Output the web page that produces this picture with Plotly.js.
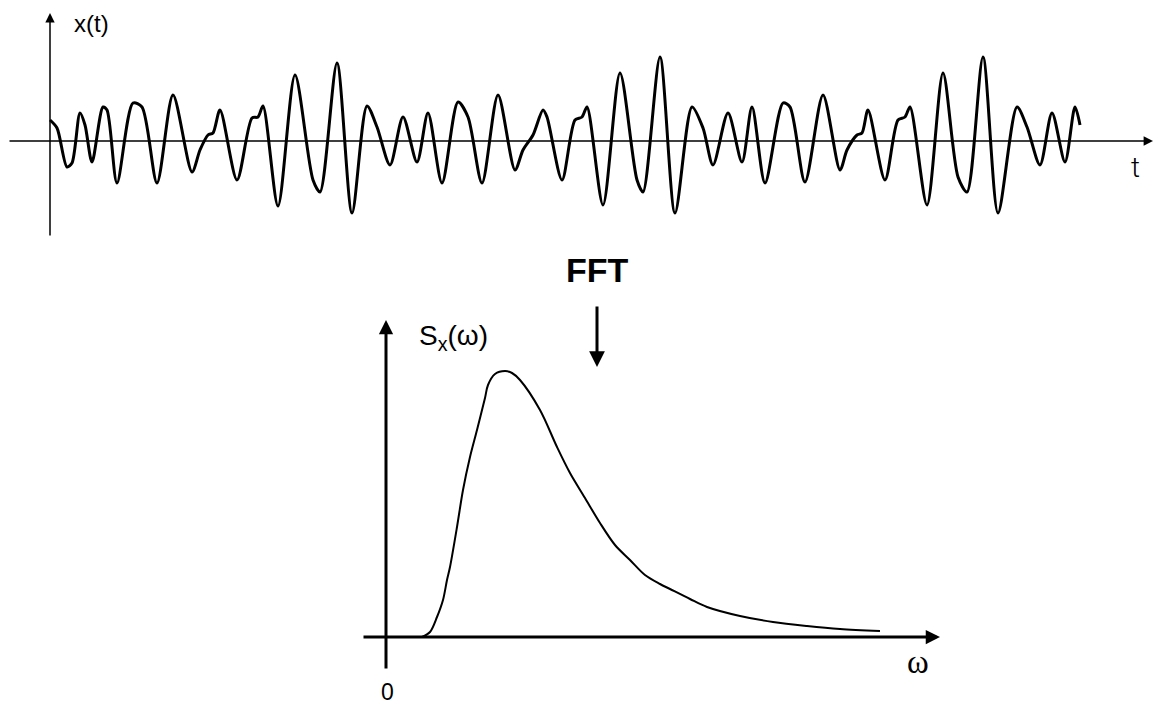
<!DOCTYPE html>
<html>
<head>
<meta charset="utf-8">
<script src="https://cdn.plot.ly/plotly-3.0.1.min.js"></script>
<style>html,body{margin:0;padding:0;background:#fff;}#chart{width:1171px;height:706px;}</style>
</head>
<body>
<div id="chart"></div>
<script>
// Time signal x(t): sample times and amplitudes
const timeT = [0,7,17,22,30,35,42,53,57,67,83,92,107,123,142,150,158,163,170,187,202,208,213,228,245,263,270,287,302,317,327,340,353,367,378,392,408,418,432,448,465,473,483,493,497,512,525,532,537,553,570,587,593,610,625,642,653,663,678,692,702,715,733,740,755,773,790,797,807,812,818,835,848,855,860,877,893,908,917,933,948,967,977,990,1002,1015,1025,1030];
const signalX = [2.1,1.3,-2.6,-2.2,2.8,1.6,-2.1,3.4,3.1,-4.2,3.8,3.4,-4.2,4.6,-3.1,-0.9,0.6,0.8,3.1,-3.9,2.3,2.4,3.5,-6.5,6.6,-3.9,-5.1,7.8,-7.2,3.5,1.4,-2.4,2.4,-2.1,2.8,-4.2,3.9,2.4,-4.2,4.6,-2.9,-0.9,0.6,3.1,2.4,-3.9,2.1,2.4,3.4,-6.4,6.8,-3.9,-5.1,8.4,-7.2,3.4,1.3,-2.4,2.8,-2.1,3.4,-4.2,3.8,3.4,-4.1,4.6,-2.9,-0.9,0.6,0.8,3.1,-3.9,2.1,2.4,3.4,-6.4,6.8,-3.6,-5.1,8.4,-7.2,3.4,1.4,-2.4,2.8,-2.1,3.4,1.6];

// Spectrum S_x(omega)
const omega = [0.36,0.44,0.51,0.57,0.61,0.64,0.71,0.77,0.84,0.91,0.99,1.02,1.09,1.19,1.26,1.34,1.54,1.71,1.84,1.99,2.14,2.29,2.44,2.59,2.74,2.84,3.04,3.21,3.54,3.87,4.21,4.54,4.94];
const spectrum = [0,0.05,0.20,0.37,0.57,0.70,1.10,1.47,1.80,2.07,2.39,2.52,2.63,2.66,2.64,2.57,2.27,1.90,1.64,1.39,1.14,0.92,0.77,0.62,0.53,0.48,0.38,0.30,0.21,0.15,0.11,0.08,0.06];

// Labels
const topYLabel = 'x(t)';
const topXLabel = 't';
const botYLabel = 'S<sub>x</sub>(ω)';
const botXLabel = 'ω';
const originLabel = '0';
const fftLabel = 'FFT';

const sans = '"Liberation Sans", Arial, sans-serif';
const serif = '"Liberation Serif", "Times New Roman", serif';

const traces = [
  {x: timeT, y: signalX, xaxis: 'x', yaxis: 'y', mode: 'lines',
   line: {color: '#000', width: 3, shape: 'spline', smoothing: 0.8}, hoverinfo: 'skip'},
  {x: omega, y: spectrum, xaxis: 'x2', yaxis: 'y2', mode: 'lines',
   line: {color: '#000', width: 2, shape: 'spline', smoothing: 0.9}, hoverinfo: 'skip'}
];

function ax(domain, range) {
  return {domain: domain, range: range, visible: false, showgrid: false, zeroline: false, fixedrange: true};
}

function arrow(xref, yref, x0, y0, x1, y1, w, size) {
  return {xref: xref, yref: yref, axref: xref, ayref: yref, x: x1, y: y1, ax: x0, ay: y0,
          text: '', showarrow: true, arrowhead: 2, arrowwidth: w, arrowsize: size, arrowcolor: '#000',
          standoff: 0, startstandoff: 0};
}

const split = 1 - 240 / 706;
const layout = {
  width: 1171, height: 706,
  margin: {l: 0, r: 0, t: 0, b: 0},
  paper_bgcolor: '#fff', plot_bgcolor: 'rgba(0,0,0,0)',
  showlegend: false,
  xaxis: ax([0, 1], [-50, 1121]),
  yaxis: ax([split, 1], [-9.9, 14.1]),
  xaxis2: ax([0, 1], [-3.86, 7.85]),
  yaxis2: ax([0, split], [-0.69, 3.97]),
  annotations: [
    arrow('x', 'y', -42, 0, 1103, 0, 1.5, 1.25),
    arrow('x', 'y', 0, -9.6, 0, 12.8, 1.5, 1.25),
    arrow('x2', 'y2', -0.24, 0, 5.54, 0, 3, 0.95),
    arrow('x2', 'y2', 0, -0.33, 0, 3.17, 3, 0.95),
    arrow('x2', 'y2', 2.11, 3.32, 2.11, 2.70, 3, 1.05),
    {xref: 'x', yref: 'y', x: 41, y: 11.8, text: topYLabel, showarrow: false,
     font: {family: sans, size: 24, color: '#000'}},
    {xref: 'x', yref: 'y', x: 1085, y: -2.6, text: topXLabel, showarrow: false,
     font: {family: 'Roboto, "Open Sans", sans-serif', size: 28, weight: 300, color: '#000'}},
    {xref: 'x2', yref: 'y2', x: 0.31, y: 3.0, text: botYLabel, showarrow: false,
     xanchor: 'left', yanchor: 'middle', font: {family: sans, size: 28, color: '#000'}},
    {xref: 'x2', yref: 'y2', x: 0.01, y: -0.685, text: originLabel, showarrow: false,
     yanchor: 'bottom', borderpad: 0, font: {family: sans, size: 23, color: '#000'}},
    {xref: 'x2', yref: 'y2', x: 5.32, y: -0.25, text: botXLabel, showarrow: false,
     font: {family: serif, size: 33, color: '#000'}},
    {xref: 'x2', yref: 'y2', x: 2.11, y: 3.67, text: fftLabel, showarrow: false,
     font: {family: sans, size: 34, weight: 'bold', color: '#000'}}
  ]
};

Plotly.newPlot('chart', traces, layout, {displayModeBar: false, staticPlot: true});
</script>
</body>
</html>
